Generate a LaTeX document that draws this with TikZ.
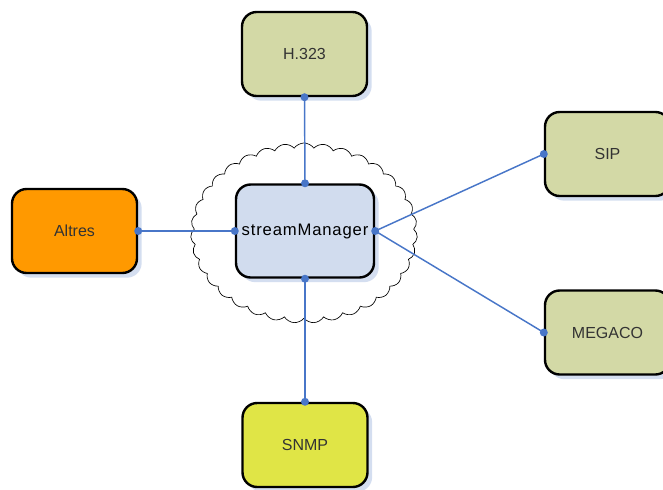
\documentclass[tikz,border=0pt]{standalone}
\usepackage{fontspec}
\setmainfont{Liberation Sans}
\usetikzlibrary{shapes.symbols,shadows}

\definecolor{olivebox}{RGB}{211,217,166}
\definecolor{orangebox}{RGB}{255,153,0}
\definecolor{yellowbox}{RGB}{224,229,70}
\definecolor{managerbox}{RGB}{209,220,238}
\definecolor{shadowblue}{RGB}{212,222,240}
\definecolor{linkblue}{RGB}{72,118,200}

\tikzset{every picture/.style={line width=0.75pt}}
\tikzset{
  protobox/.style={draw=black, line width=1.8pt, rounded corners=11pt,
    minimum width=93.75pt, minimum height=63pt, text=black!80,
    font=\fontsize{12}{14}\selectfont,
    drop shadow={shadow xshift=3.5pt, shadow yshift=-3.5pt, fill=shadowblue, opacity=1}},
  link/.style={draw=linkblue, line width=1.1pt},
  linkdot/.style={fill=linkblue}
}

\begin{document}
\begin{tikzpicture}[x=0.75pt,y=0.75pt,yscale=-1,xscale=1]
			\useasboundingbox (0,0) rectangle (663,489);

			%Shape: Cloud [id:cloud]
			\node (cloud) at (304,233) [cloud, draw=black, fill=white, line width=0.5pt,
			  cloud puffs=35, cloud puff arc=110, cloud ignores aspect,
			  minimum width=170pt, minimum height=135pt] {};

			%Shape: Rounded Rect [id:manager]
			\node (manager) at (305,231) [protobox, fill=managerbox, text=black,
			  minimum width=103.5pt, minimum height=69.75pt,
			  font=\fontsize{12.5}{14}\selectfont\addfontfeature{LetterSpace=5}] {streamManager};
			%Shape: Rounded Rect [id:h323]
			\node (h323) at (304.5,54) [protobox, fill=olivebox] {H.323};
			%Shape: Rounded Rect [id:altres]
			\node (altres) at (74.5,231) [protobox, fill=orangebox] {Altres};
			%Shape: Rounded Rect [id:sip]
			\node (sip) at (607.5,154) [protobox, fill=olivebox] {SIP};
			%Shape: Rounded Rect [id:megaco]
			\node (megaco) at (607.5,332.5) [protobox, fill=olivebox] {MEGACO};
			%Shape: Rounded Rect [id:snmp]
			\node (snmp) at (305,445) [protobox, fill=yellowbox] {SNMP};

			%Straight Lines
			\draw [link] (h323.south) -- (manager.north);
			\draw [link] (altres.east) -- (manager.west);
			\draw [link] (manager.south) -- (snmp.north);
			\draw [link] (manager.east) -- (sip.west);
			\draw [link] (manager.east) -- (megaco.west);

			%Connection dots
			\foreach \pt in {h323.south, manager.north, altres.east, manager.west,
			  manager.south, snmp.north, manager.east, sip.west, megaco.west}
			  \fill [linkdot] (\pt) circle (3pt);

		\end{tikzpicture}
\end{document}
